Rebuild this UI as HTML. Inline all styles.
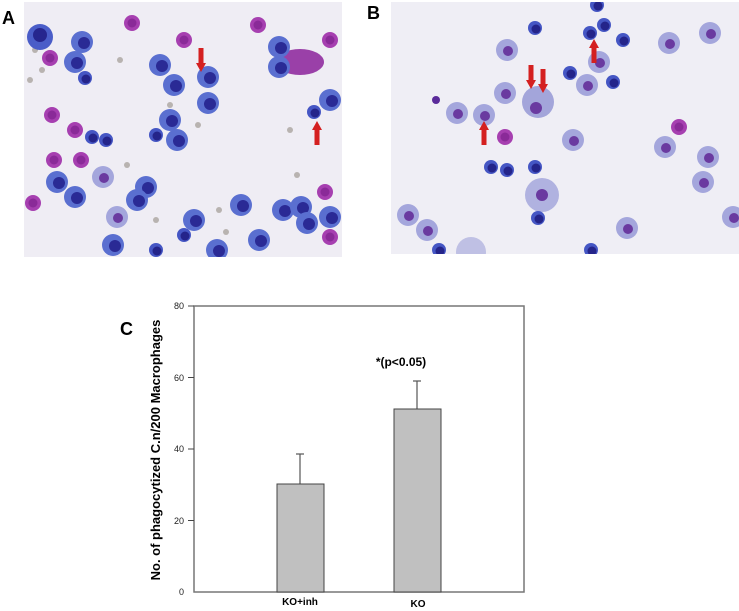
<!DOCTYPE html>
<html><head><meta charset="utf-8"><style>body{margin:0;background:#fff}svg{display:block}</style></head><body>
<svg width="739" height="611" viewBox="0 0 739 611" xmlns="http://www.w3.org/2000/svg" font-family="Liberation Sans, sans-serif">
<defs>
<g id="c"><circle r="11" fill="#5a6fd0"/><circle cx="2" cy="1" r="6" fill="#2a2a95"/></g>
<g id="cs"><circle r="7" fill="#4556c4"/><circle cx="1" cy="1" r="4.5" fill="#24248a"/></g>
<g id="cp"><circle r="11" fill="#a4a6dc"/><circle cx="1" cy="1" r="5" fill="#6a3aa0"/></g>
<g id="p"><circle r="8" fill="#a63fb0"/><circle r="4.5" fill="#8a2a98"/></g>
<g id="rb"><circle r="3" fill="#b8b3b0"/></g>
<g id="ad"><rect x="-2.5" y="0" width="5" height="16" fill="#d42020"/><polygon points="-5,15 5,15 0,24" fill="#d42020"/></g>
<g id="au"><rect x="-2.5" y="8" width="5" height="16" fill="#d42020"/><polygon points="-5,9 5,9 0,0" fill="#d42020"/></g>
<clipPath id="ca"><rect x="24" y="2" width="318" height="255"/></clipPath>
<clipPath id="cb"><rect x="391" y="2" width="348" height="252"/></clipPath>
</defs>
<text x="2" y="24" font-size="18" font-weight="bold">A</text>
<text x="367" y="19" font-size="18" font-weight="bold">B</text>
<rect x="24" y="2" width="318" height="255" fill="#efedf4"/>
<rect x="391" y="2" width="348" height="252" fill="#efeef5"/>
<g clip-path="url(#ca)">
<use href="#rb" x="35" y="50"/><use href="#rb" x="42" y="70"/><use href="#rb" x="120" y="60"/><use href="#rb" x="170" y="105"/><use href="#rb" x="198" y="125"/><use href="#rb" x="127" y="165"/><use href="#rb" x="219" y="210"/><use href="#rb" x="156" y="220"/><use href="#rb" x="290" y="130"/><use href="#rb" x="297" y="175"/><use href="#rb" x="226" y="232"/><use href="#rb" x="30" y="80"/>
<use href="#p" x="132" y="23"/><use href="#p" x="184" y="40"/><use href="#p" x="258" y="25"/><use href="#p" x="50" y="58"/><use href="#p" x="52" y="115"/><use href="#p" x="75" y="130"/><use href="#p" x="81" y="160"/><use href="#p" x="54" y="160"/><use href="#p" x="33" y="203"/><use href="#p" x="330" y="40"/><use href="#p" x="325" y="192"/><use href="#p" x="330" y="237"/>
<ellipse cx="300" cy="62" rx="24" ry="13" fill="#9a40a8"/>
<circle cx="40" cy="37" r="13" fill="#4a5dc8"/><circle cx="40" cy="35" r="7" fill="#26268e"/>
<use href="#c" x="82" y="42"/><use href="#c" x="75" y="62"/><use href="#cs" x="85" y="78"/><use href="#c" x="160" y="65"/><use href="#c" x="174" y="85"/><use href="#c" x="208" y="77"/><use href="#c" x="208" y="103"/><use href="#c" x="170" y="120"/><use href="#c" x="177" y="140"/><use href="#cs" x="156" y="135"/><use href="#c" x="279" y="47"/><use href="#c" x="279" y="67"/><use href="#c" x="330" y="100"/><use href="#cs" x="314" y="112"/><use href="#cs" x="92" y="137"/><use href="#cs" x="106" y="140"/><use href="#c" x="57" y="182"/><use href="#c" x="75" y="197"/><use href="#cp" x="103" y="177"/><use href="#c" x="146" y="187"/><use href="#c" x="137" y="200"/><use href="#cp" x="117" y="217"/><use href="#c" x="194" y="220"/><use href="#cs" x="184" y="235"/><use href="#c" x="241" y="205"/><use href="#c" x="259" y="240"/><use href="#c" x="283" y="210"/><use href="#c" x="301" y="207"/><use href="#c" x="307" y="223"/><use href="#c" x="330" y="217"/><use href="#c" x="113" y="245"/><use href="#c" x="217" y="250"/><use href="#cs" x="156" y="250"/>
<use href="#ad" x="201" y="48"/><use href="#au" x="317" y="121"/>
</g>
<g clip-path="url(#cb)">
<use href="#cs" x="535" y="28"/><use href="#cs" x="590" y="33"/><use href="#cs" x="604" y="25"/><use href="#cs" x="623" y="40"/><use href="#cp" x="669" y="43"/><use href="#cp" x="710" y="33"/><use href="#cp" x="507" y="50"/><use href="#cp" x="599" y="62"/><use href="#cs" x="570" y="73"/><use href="#cp" x="587" y="85"/><use href="#cs" x="613" y="82"/><use href="#cp" x="505" y="93"/>
<circle cx="538" cy="102" r="16" fill="#a3a5da"/><circle cx="536" cy="108" r="6" fill="#6a3aa0"/>
<use href="#cp" x="484" y="115"/><use href="#cp" x="457" y="113"/><circle cx="436" cy="100" r="4" fill="#5a2a9a"/>
<use href="#cp" x="573" y="140"/><use href="#p" x="505" y="137"/><use href="#p" x="679" y="127"/><use href="#cp" x="665" y="147"/><use href="#cp" x="708" y="157"/><use href="#cp" x="703" y="182"/>
<use href="#cs" x="491" y="167"/><use href="#cs" x="507" y="170"/><use href="#cs" x="535" y="167"/>
<circle cx="542" cy="195" r="17" fill="#b0b2e0"/><circle cx="542" cy="195" r="6" fill="#6a3aa0"/>
<use href="#cs" x="538" y="218"/><use href="#cp" x="408" y="215"/><use href="#cp" x="427" y="230"/><use href="#cp" x="627" y="228"/><use href="#cp" x="733" y="217"/>
<circle cx="471" cy="252" r="15" fill="#bfc0e4"/><use href="#cs" x="591" y="250"/><use href="#cs" x="597" y="5"/><use href="#cs" x="439" y="250"/>
<use href="#au" x="594" y="39"/><use href="#ad" x="531" y="65"/><use href="#ad" x="543" y="69"/><use href="#au" x="484" y="121"/>
</g>
<text x="120" y="335" font-size="18" font-weight="bold">C</text>
<rect x="194" y="306" width="330" height="286" fill="#fff" stroke="#777" stroke-width="1.5"/>
<g font-size="9" fill="#222" text-anchor="end">
<text x="184" y="309">80</text><text x="184" y="381">60</text><text x="184" y="452">40</text><text x="184" y="524">20</text><text x="184" y="595">0</text>
</g>
<g stroke="#444" stroke-width="1">
<line x1="188" y1="306" x2="194" y2="306"/><line x1="188" y1="377.5" x2="194" y2="377.5"/><line x1="188" y1="449" x2="194" y2="449"/><line x1="188" y1="520.5" x2="194" y2="520.5"/>
</g>
<g stroke="#555" stroke-width="1.2">
<line x1="300" y1="484" x2="300" y2="454"/><line x1="296" y1="454" x2="304" y2="454"/>
<line x1="417" y1="409" x2="417" y2="381"/><line x1="413" y1="381" x2="421" y2="381"/>
</g>
<rect x="277" y="484" width="47" height="108" fill="#c0c0c0" stroke="#444" stroke-width="1"/>
<rect x="394" y="409" width="47" height="183" fill="#c0c0c0" stroke="#444" stroke-width="1"/>
<text x="401" y="366" font-size="12" font-weight="bold" text-anchor="middle">*(p&lt;0.05)</text>
<text x="300" y="605" font-size="10" font-weight="bold" text-anchor="middle">KO+inh</text>
<text x="418" y="607" font-size="10" font-weight="bold" text-anchor="middle">KO</text>
<text transform="translate(160,450) rotate(-90)" font-size="13" font-weight="bold" text-anchor="middle">No.  of phagocytized C.n/200 Macrophages</text>
</svg>
</body></html>
